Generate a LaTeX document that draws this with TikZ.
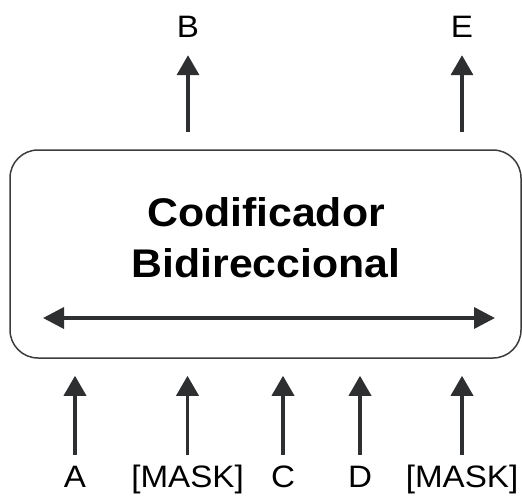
\documentclass[tikz,border=0pt]{standalone}
\usepackage{fontspec}
\setmainfont{Liberation Sans}[FakeStretch=1.07]
\usetikzlibrary{arrows.meta}
\definecolor{inkarrow}{HTML}{2E2F31}
\definecolor{inkbox}{HTML}{3C3C3C}
\tikzset{
  flow/.style={draw=inkarrow, line width=3.6pt,
    -{Triangle[length=20pt,width=22pt]}},
  both/.style={draw=inkarrow, line width=3.6pt,
    {Triangle[length=21pt,width=21pt]}-{Triangle[length=21pt,width=21pt]}},
  encoder/.style={draw=inkbox, line width=1.5pt, rounded corners=28pt,
    minimum width=511pt, minimum height=208pt, inner sep=0pt},
  token/.style={font=\fontsize{31}{31}\selectfont, inner sep=0pt,
    text height=22pt, text depth=0pt, anchor=base},
  title/.style={font=\fontsize{40}{51}\selectfont\bfseries, align=center,
    inner sep=0pt}
}
\begin{document}
\begin{tikzpicture}[x=1pt, y=-1pt]
  \useasboundingbox (0,0) rectangle (522,496);
  % encoder block
  \node[encoder] (enc) at (265.5,254) {};
  \node[title] (name) at (266,238) {Codificador\\Bidireccional};
  % bidirectional context arrow
  \coordinate (ctxL) at (43,318);
  \coordinate (ctxR) at (495,318);
  \draw[both] (ctxL) -- (ctxR);
  % input tokens
  \node[token] (inA) at (75,487) {A};
  \node[token] (inM1) at (187.5,487) {[MASK]};
  \node[token] (inC) at (283,487) {C};
  \node[token] (inD) at (360,487) {D};
  \node[token] (inM2) at (462,487) {[MASK]};
  % output tokens
  \node[token] (outB) at (188,37) {B};
  \node[token] (outE) at (462,37) {E};
  % inputs into the encoder
  \foreach \t in {inA,inM1,inC,inD,inM2}
    \draw[flow, shorten <=10pt, shorten >=17pt] (\t.north) -- (\t.north |- enc.south);
  % predictions out of the encoder
  \foreach \t in {outB,outE}
    \draw[flow, shorten <=17pt, shorten >=18pt] (\t.south |- enc.north) -- (\t.south);
\end{tikzpicture}
\end{document}
